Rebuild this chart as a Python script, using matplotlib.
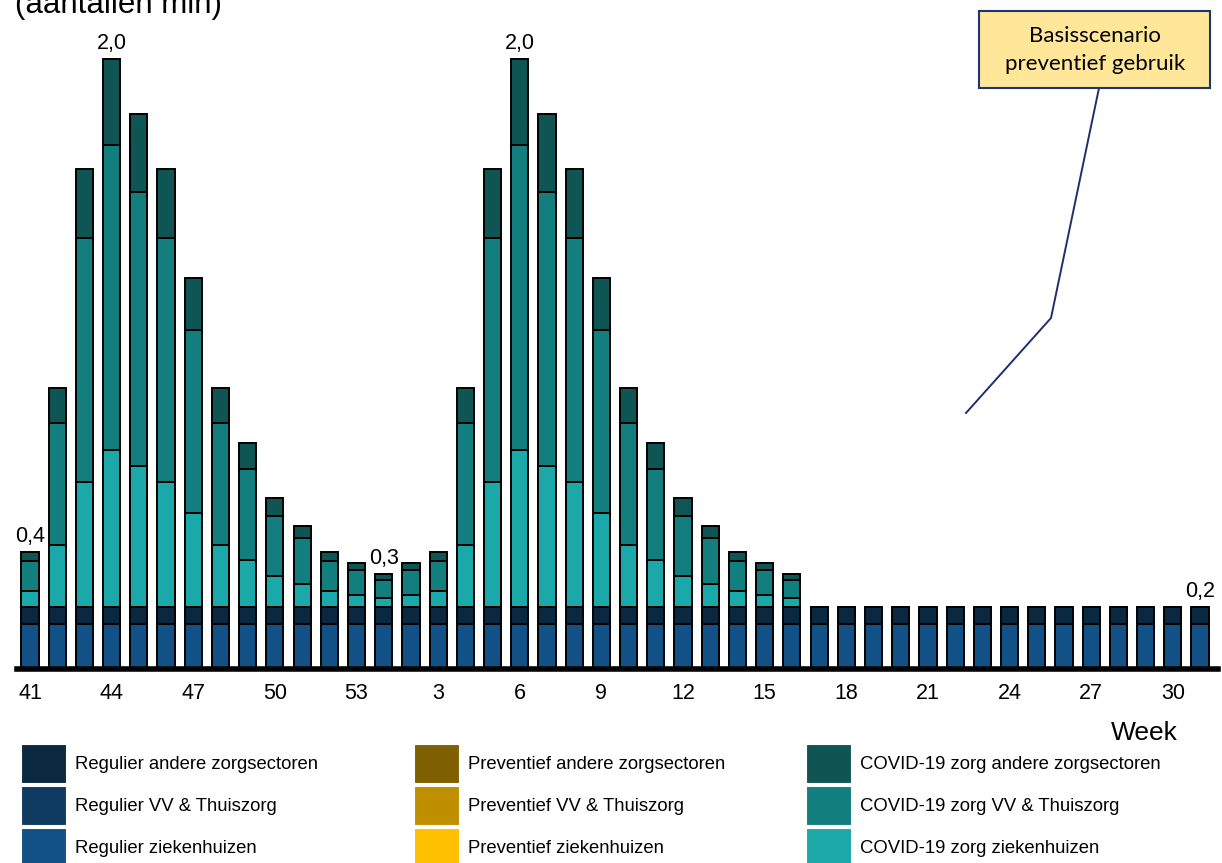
import matplotlib
matplotlib.use("Agg")
import matplotlib.pyplot as plt
from matplotlib.patches import Patch, Rectangle
from matplotlib.lines import Line2D
import numpy as np

plt.rcParams['font.family'] = ['Liberation Sans', 'DejaVu Sans']

# ---------------- data ----------------
weeks = list(range(41, 54)) + list(range(1, 32))
tick_weeks = [41, 44, 47, 50, 53, 3, 6, 9, 12, 15, 18, 21, 24, 27, 30]

regulier_zh = [0.147] * 44
regulier_vv = [0.0] * 44
regulier_andere = [0.055] * 44

preventief_zh = [0.0] * 44
preventief_vv = [0.0] * 44
preventief_andere = [0.0] * 44

covid_zh = [0.053, 0.206, 0.412, 0.518, 0.466, 0.412, 0.311, 0.206, 0.156, 0.104,
            0.077, 0.053, 0.042, 0.031, 0.042, 0.053, 0.206, 0.412, 0.518, 0.466,
            0.412, 0.311, 0.206, 0.156, 0.104, 0.077, 0.053, 0.042, 0.031] + [0.0] * 15
covid_vv = [0.099, 0.400, 0.801, 1.000, 0.900, 0.801, 0.601, 0.400, 0.299, 0.198,
            0.151, 0.099, 0.080, 0.060, 0.080, 0.099, 0.400, 0.801, 1.000, 0.900,
            0.801, 0.601, 0.400, 0.299, 0.198, 0.151, 0.099, 0.080, 0.060] + [0.0] * 15
covid_andere = [0.030, 0.114, 0.228, 0.283, 0.254, 0.228, 0.170, 0.114, 0.086, 0.058,
                0.041, 0.030, 0.023, 0.019, 0.023, 0.030, 0.114, 0.228, 0.283, 0.254,
                0.228, 0.170, 0.114, 0.086, 0.058, 0.041, 0.030, 0.023, 0.019] + [0.0] * 15

label_weeks = [41, 44, 1, 6, 31]

series_names = [
    "Regulier ziekenhuizen", "Regulier VV & Thuiszorg", "Regulier andere zorgsectoren",
    "Preventief ziekenhuizen", "Preventief VV & Thuiszorg", "Preventief andere zorgsectoren",
    "COVID-19 zorg ziekenhuizen", "COVID-19 zorg VV & Thuiszorg", "COVID-19 zorg andere zorgsectoren",
]
series_values = [regulier_zh, regulier_vv, regulier_andere,
                 preventief_zh, preventief_vv, preventief_andere,
                 covid_zh, covid_vv, covid_andere]
colors = ["#125186", "#0F3A61", "#0B2841",
          "#FFC000", "#BF8F00", "#7F6000",
          "#1BA8A9", "#137E7E", "#0E5553"]

# ---------------- figure ----------------
W, H = 1222, 863
fig = plt.figure(figsize=(W / 100, H / 100), dpi=100)

def fx(px):
    return px / W

def fy(py):
    return 1 - py / H

ax_left, ax_right, ax_top, ax_bottom = 17, 1218, 0, 669
ax = fig.add_axes([fx(ax_left), fy(ax_bottom), (ax_right - ax_left) / W, (ax_bottom - ax_top) / H])

x = np.arange(len(weeks))
bottom = np.zeros(len(weeks))
for name, vals, c in zip(series_names, series_values, colors):
    v = np.array(vals)
    ax.bar(x, v, bottom=bottom, width=0.63, color=c, edgecolor="black", linewidth=1.4, zorder=2)
    bottom = bottom + v

totals = bottom
for wk in label_weeks:
    i = weeks.index(wk)
    ax.annotate(f"{totals[i]:.1f}".replace(".", ","), (x[i], totals[i]),
                xytext=(0, 7.5), textcoords="offset points",
                ha="center", va="baseline", fontsize=15.5)

ax.set_xlim(-0.478, 43.66)
ax.set_ylim(0, 669 / 304.5)
tick_idx = [weeks.index(w) if w >= 41 else 13 + w - 1 for w in tick_weeks]
ax.set_xticks(tick_idx)
ax.set_xticklabels([str(w) for w in tick_weeks], fontsize=15.5)
ax.tick_params(axis="x", length=0, pad=10)
ax.set_yticks([])
for s in ["top", "right", "left"]:
    ax.spines[s].set_visible(False)
ax.spines["bottom"].set_linewidth(4)
ax.spines["bottom"].set_zorder(3)
ax.patch.set_visible(False)

# title (partly above the top edge, as in the reference)
fig.text(fx(15), fy(13), "(aantallen mln)", fontsize=22.5, ha="left", va="baseline")

# x-axis title
fig.text(fx(1178), fy(740), "Week", fontsize=19, ha="right", va="baseline")

# legends (three columns)
fs = 13.3
fspx = fs * 100 / 72
patch_h = 39
hh = (patch_h / fspx - 0.245) / 0.65
col_x = [21, 414, 806]
for ci, cx in enumerate(col_x):
    idxs = [3 * ci + 2, 3 * ci + 1, 3 * ci]
    handles = [Patch(facecolor=colors[k], edgecolor="white", linewidth=0.8) for k in idxs]
    labels = [series_names[k] for k in idxs]
    fig.legend(handles, labels, loc="upper left", bbox_to_anchor=(fx(cx), fy(744)),
               frameon=False, borderpad=0, borderaxespad=0, fontsize=fs,
               handlelength=45 / fspx, handleheight=hh,
               handletextpad=9 / fspx, labelspacing=3 / fspx)

# annotation box and leader line
box = Rectangle((fx(979), fy(88)), (1210 - 979) / W, (88 - 11) / H, transform=fig.transFigure,
                facecolor="#FFE699", edgecolor="#1F3370", linewidth=1.5, zorder=5)
fig.add_artist(box)
fig.text(fx(1095), fy(50), "Basisscenario\npreventief gebruik", fontsize=16,
         family=["Lato", "DejaVu Sans"], ha="center", va="center", linespacing=1.45, zorder=6)
fig.add_artist(Line2D([fx(1099), fx(1051), fx(966)], [fy(88), fy(318), fy(413)],
                      transform=fig.transFigure, color="#1F2F6B", linewidth=1.4))

fig.savefig("out.png", dpi=100)
